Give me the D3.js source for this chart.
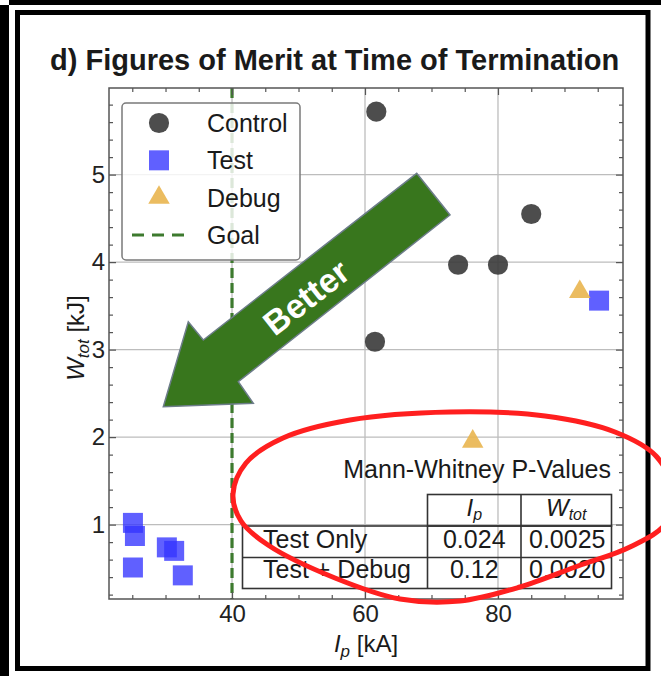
<!DOCTYPE html>
<html><head><meta charset="utf-8">
<script src="https://cdn.jsdelivr.net/npm/d3@7"></script>
<style>
html,body{margin:0;padding:0;background:#fff;}
text{font-family:"Liberation Sans",Arial,Helvetica,sans-serif;}
</style></head>
<body><div id="chart"></div>
<script>
// ---- data ----
const titleText = "d) Figures of Merit at Time of Termination";
const controlIp = [61.7, 74.0, 80.0, 85.0, 61.5];
const controlW  = [5.72, 3.97, 3.97, 4.55, 3.09];
const testIp = [25.1, 25.4, 25.1, 30.2, 31.3, 32.6, 95.2];
const testW  = [1.02, 0.87, 0.51, 0.74, 0.70, 0.42, 3.56];
const debugIp = [92.3, 76.2];
const debugW  = [3.66, 1.95];
const goalIp = 40;
const xTicks = [40, 60, 80];
const yTicks = [1, 2, 3, 4, 5];
const legendLabels = ["Control", "Test", "Debug", "Goal"];
const tableTitle = "Mann-Whitney P-Values";
const tableRows = ["Test Only", "Test + Debug"];
const pIp = ["0.024", "0.12"];
const pW  = ["0.0025", "0.0020"];
const arrowLabel = "Better";

// ---- layout ----
const W = 661, H = 676;
const L = 109, R = 623, T = 88, B = 599;
const svg = d3.select("#chart").append("svg").attr("width", W).attr("height", H);
svg.append("rect").attr("width", W).attr("height", H).attr("fill", "#fff");

const x = d3.scaleLinear().domain([21.5, 98.8]).range([L, R]);
const y = d3.scaleLinear().domain([0.15, 5.99]).range([B, T]);

const colCtrl = "#3a3a3a", colTest = "#3333ff", colDebug = "#e9b54f", colGoal = "#3d7a2e";

// grid
const grid = svg.append("g");
grid.selectAll("line.v").data(xTicks).join("line")
  .attr("x1", d => x(d)).attr("x2", d => x(d)).attr("y1", T).attr("y2", B)
  .attr("stroke", "#bdbdbd").attr("stroke-width", 1.3);
grid.selectAll("line.h").data(yTicks).join("line")
  .attr("y1", d => y(d)).attr("y2", d => y(d)).attr("x1", L).attr("x2", R)
  .attr("stroke", "#bdbdbd").attr("stroke-width", 1.3);

// goal line
svg.append("line").attr("x1", x(goalIp)).attr("x2", x(goalIp)).attr("y1", T).attr("y2", B)
  .attr("stroke", colGoal).attr("stroke-width", 3.2).attr("stroke-dasharray", "10,5");

// axes
const minorX = d3.range(25, 100, 5).filter(v => !xTicks.includes(v));
const minorY = d3.range(0.2, 6.0, 0.2).map(v => +v.toFixed(1)).filter(v => !yTicks.includes(v));
function styleAxis(g) {
  g.select(".domain").remove();
  g.selectAll(".tick line").attr("stroke", "#555").attr("stroke-width", 1.2);
  g.selectAll(".tick text").attr("font-size", 24).attr("fill", "#222")
    .style("font-family", "'Liberation Sans',Arial,sans-serif");
}
svg.append("g").attr("transform", `translate(0,${B})`)
  .call(d3.axisBottom(x).tickValues(xTicks).tickSize(-7).tickPadding(6).tickFormat(d3.format("d"))).call(styleAxis);
svg.append("g").attr("transform", `translate(0,${B})`)
  .call(d3.axisBottom(x).tickValues(minorX).tickSize(-4).tickFormat("")).call(styleAxis);
svg.append("g").attr("transform", `translate(0,${T})`)
  .call(d3.axisTop(x).tickValues(xTicks).tickSize(-7).tickFormat("")).call(styleAxis);
svg.append("g").attr("transform", `translate(0,${T})`)
  .call(d3.axisTop(x).tickValues(minorX).tickSize(-4).tickFormat("")).call(styleAxis);
svg.append("g").attr("transform", `translate(${L},0)`)
  .call(d3.axisLeft(y).tickValues(yTicks).tickSize(-7).tickPadding(4).tickFormat(d3.format("d"))).call(styleAxis);
svg.append("g").attr("transform", `translate(${L},0)`)
  .call(d3.axisLeft(y).tickValues(minorY).tickSize(-4).tickFormat("")).call(styleAxis);
svg.append("g").attr("transform", `translate(${R},0)`)
  .call(d3.axisRight(y).tickValues(yTicks).tickSize(-7).tickFormat("")).call(styleAxis);
svg.append("g").attr("transform", `translate(${R},0)`)
  .call(d3.axisRight(y).tickValues(minorY).tickSize(-4).tickFormat("")).call(styleAxis);

// plot frame
svg.append("rect").attr("x", L).attr("y", T).attr("width", R - L).attr("height", B - T)
  .attr("fill", "none").attr("stroke", "#555").attr("stroke-width", 1.5);

// points
svg.append("g").selectAll("path").data(controlIp.map((v, i) => [v, controlW[i]])).join("path")
  .attr("transform", d => `translate(${x(d[0])},${y(d[1])})`)
  .attr("d", d3.symbol().type(d3.symbolCircle).size(320)()).attr("fill", colCtrl).attr("fill-opacity", 0.9);
svg.append("g").selectAll("path").data(testIp.map((v, i) => [v, testW[i]])).join("path")
  .attr("transform", d => `translate(${x(d[0])},${y(d[1])})`)
  .attr("d", d3.symbol().type(d3.symbolSquare).size(400)()).attr("fill", colTest).attr("fill-opacity", 0.78);
svg.append("g").selectAll("path").data(debugIp.map((v, i) => [v, debugW[i]])).join("path")
  .attr("transform", d => `translate(${x(d[0])},${y(d[1])})`)
  .attr("d", d3.symbol().type(d3.symbolTriangle).size(200)()).attr("fill", colDebug).attr("fill-opacity", 0.9);

// legend
const lg = svg.append("g");
lg.append("rect").attr("x", 122).attr("y", 103).attr("width", 178).attr("height", 157).attr("rx", 4)
  .attr("fill", "#fff").attr("fill-opacity", 0.82).attr("stroke", "#7a7a7a").attr("stroke-width", 1.5);
const legY = d3.scalePoint().domain(legendLabels).range([123, 235]);
const lsx = 159;
lg.append("path").attr("transform", `translate(${lsx},${legY("Control")})`)
  .attr("d", d3.symbol().type(d3.symbolCircle).size(320)()).attr("fill", colCtrl).attr("fill-opacity", 0.9);
lg.append("path").attr("transform", `translate(${lsx},${legY("Test")})`)
  .attr("d", d3.symbol().type(d3.symbolSquare).size(400)()).attr("fill", colTest).attr("fill-opacity", 0.78);
lg.append("path").attr("transform", `translate(${lsx},${legY("Debug")})`)
  .attr("d", d3.symbol().type(d3.symbolTriangle).size(200)()).attr("fill", colDebug).attr("fill-opacity", 0.9);
lg.append("line").attr("x1", 132).attr("x2", 188).attr("y1", legY("Goal")).attr("y2", legY("Goal"))
  .attr("stroke", colGoal).attr("stroke-width", 3.2).attr("stroke-dasharray", "12,8");
lg.selectAll("text").data(legendLabels).join("text")
  .attr("x", 207).attr("y", d => legY(d)).attr("dy", "0.36em")
  .attr("font-size", 25).attr("fill", "#1a1a1a").text(d => d);

// table
const tb = svg.append("g");
tb.append("text").attr("x", 611).attr("y", 478).attr("text-anchor", "end")
  .attr("font-size", 25).attr("fill", "#1a1a1a").text(tableTitle);
const cx = [242.5, 427.5, 521, 611.5];
const ry = [494.5, 526, 557.5, 588.5];
const lineC = "#333";
tb.append("rect").attr("x", cx[1]).attr("y", ry[0]).attr("width", cx[3] - cx[1]).attr("height", ry[1] - ry[0])
  .attr("fill", "none").attr("stroke", lineC).attr("stroke-width", 1.6);
tb.append("rect").attr("x", cx[0]).attr("y", ry[1]).attr("width", cx[3] - cx[0]).attr("height", ry[3] - ry[1])
  .attr("fill", "none").attr("stroke", lineC).attr("stroke-width", 1.6);
tb.append("line").attr("x1", cx[0]).attr("x2", cx[3]).attr("y1", ry[2]).attr("y2", ry[2]).attr("stroke", lineC).attr("stroke-width", 1.6);
tb.append("line").attr("x1", cx[2]).attr("x2", cx[2]).attr("y1", ry[0]).attr("y2", ry[3]).attr("stroke", lineC).attr("stroke-width", 1.6);
tb.append("line").attr("x1", cx[1]).attr("x2", cx[1]).attr("y1", ry[1]).attr("y2", ry[3]).attr("stroke", lineC).attr("stroke-width", 1.6);
const h1 = tb.append("text").attr("x", (cx[1] + cx[2]) / 2).attr("y", 516).attr("text-anchor", "middle")
  .attr("font-size", 24).attr("font-style", "italic").attr("fill", "#1a1a1a");
h1.append("tspan").text("I");
h1.append("tspan").attr("font-size", 16).attr("dy", 4).text("p");
const h2 = tb.append("text").attr("x", (cx[2] + cx[3]) / 2).attr("y", 516).attr("text-anchor", "middle")
  .attr("font-size", 24).attr("font-style", "italic").attr("fill", "#1a1a1a");
h2.append("tspan").text("W");
h2.append("tspan").attr("font-size", 16).attr("dy", 4).text("tot");
const rowBase = [548, 578];
tb.selectAll("text.rl").data(tableRows).join("text").attr("class", "rl")
  .attr("x", 263).attr("y", (d, i) => rowBase[i]).attr("font-size", 25).attr("fill", "#1a1a1a").text(d => d);
tb.selectAll("text.p1").data(pIp).join("text").attr("class", "p1")
  .attr("x", (cx[1] + cx[2]) / 2).attr("y", (d, i) => rowBase[i]).attr("text-anchor", "middle")
  .attr("font-size", 25).attr("fill", "#1a1a1a").text(d => d);
tb.selectAll("text.p2").data(pW).join("text").attr("class", "p2")
  .attr("x", (cx[2] + cx[3]) / 2 + 1).attr("y", (d, i) => rowBase[i]).attr("text-anchor", "middle")
  .attr("font-size", 25).attr("fill", "#1a1a1a").text(d => d);

// axis titles
const xt = svg.append("text").attr("x", (L + R) / 2).attr("y", 652).attr("text-anchor", "middle")
  .attr("font-size", 24).attr("fill", "#1a1a1a");
xt.append("tspan").attr("font-style", "italic").text("I");
xt.append("tspan").attr("font-style", "italic").attr("font-size", 17).attr("dy", 5).text("p");
xt.append("tspan").attr("dy", -5).text(" [kA]");
const yt = svg.append("text").attr("transform", `translate(84,338) rotate(-90)`)
  .attr("text-anchor", "middle").attr("font-size", 24).attr("fill", "#1a1a1a");
yt.append("tspan").attr("font-style", "italic").text("W");
yt.append("tspan").attr("font-style", "italic").attr("font-size", 17).attr("dy", 5).text("tot");
yt.append("tspan").attr("dy", -5).text(" [kJ]");

// title
svg.append("text").attr("x", 50).attr("y", 70).attr("font-size", 29).attr("font-weight", "bold")
  .attr("fill", "#1a1a1a").text(titleText);

// arrow annotation
const arrowPts = [[416.7,173.3],[450,215],[238.3,381.7],[253.3,403.3],[163.3,406.7],[188.3,321.7],[203.3,340]];
svg.append("path").attr("d", d3.line().curve(d3.curveLinearClosed)(arrowPts))
  .attr("fill", "#38761d").attr("stroke", "#6d7d8a").attr("stroke-width", 1.5);
svg.append("text").attr("transform", "translate(306,297) rotate(-38)")
  .attr("text-anchor", "middle").attr("dy", "0.36em").attr("font-size", 34).attr("font-weight", "bold")
  .attr("fill", "#fff").text(arrowLabel);

// outer frame
svg.append("rect").attr("x", 0).attr("y", 5).attr("width", 9).attr("height", H - 5).attr("fill", "#000");
svg.append("rect").attr("x", 9).attr("y", 0).attr("width", W - 9).attr("height", 5).attr("fill", "#000");
svg.append("rect").attr("x", 17.5).attr("y", 12.5).attr("width", 630.5).attr("height", 656)
  .attr("fill", "none").attr("stroke", "#000").attr("stroke-width", 5);

// hand-drawn red ellipse (annotation outline)
const ovalPts = [[233,494],[246,463],[283,438],[350,420],[450,412],[545,416],[615,432],[656,456],[672,490],[666,523],[630,547],[578,566],[520,587],[460,601],[400,599],[335,578],[268,545],[241,521]];
svg.append("path").attr("d", d3.line().curve(d3.curveCatmullRomClosed.alpha(0.5))(ovalPts))
  .attr("fill", "none").attr("stroke", "#ff1f1f").attr("stroke-width", 5);
</script></body></html>
